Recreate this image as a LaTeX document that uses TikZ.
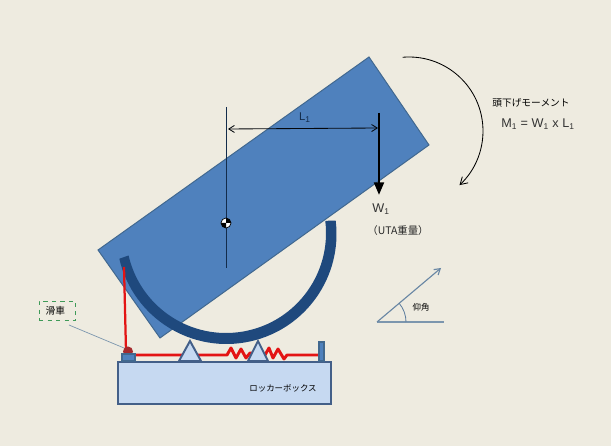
\documentclass[tikz,border=0pt]{standalone}
\usepackage{fontspec}
\setmainfont{Liberation Sans}
\newfontfamily\jp{Noto Sans CJK JP}
\usepackage{xcolor}
\usetikzlibrary{calc,arrows.meta}
\definecolor{paper}{HTML}{EEEBE0}
\definecolor{bodyblue}{HTML}{4F81BD}
\definecolor{edgeblue}{HTML}{41688F}
\definecolor{navy}{HTML}{1F497D}
\definecolor{boxblue}{HTML}{C6D9F1}
\definecolor{boxedge}{HTML}{435F88}
\definecolor{wire}{HTML}{E31414}
\definecolor{thingrey}{HTML}{7C96AE}
\definecolor{pulleyred}{HTML}{A52A2E}
\definecolor{dashgreen}{HTML}{3F9A58}
\tikzset{
  lab/.style={inner sep=0pt,text=black!80,font=\fontsize{9}{11}\selectfont},
  jplab/.style={inner sep=0pt,text=black,font=\fontsize{6.9}{8}\selectfont\jp},
  wirepath/.style={draw=wire,line width=2.1pt,line join=round},
  pivot/.style={fill=boxblue,draw=boxedge,line width=1.4pt,line join=miter},
}
\begin{document}
\begin{tikzpicture}[x=0.025cm,y=0.025cm]
\useasboundingbox (0,0) rectangle (611,446);
\fill [paper] (0,0) rectangle (611,446);

% launcher body
\filldraw [fill=bodyblue, draw=edgeblue, line width=0.7pt] (369,389) -- (429,301) -- (160,108) -- (98,196) -- cycle;

% cradle
\fill [navy] (226.5,212) ++(193:110) arc[start angle=193, end angle=367, radius=110]
  -- ($(226,213)+(7:100)$) arc[start angle=7, end angle=-167, radius=100] -- cycle;

% box and pivots
\filldraw [fill=boxblue, draw=boxedge, line width=1.4pt] (118,84) rectangle (331,42);
\node [jplab, font=\fontsize{6}{8}\selectfont\jp] (boxlabel) at (283,58) {ロッカーボックス};

% wire
\coordinate (wiretop) at (124,179);
\coordinate (wirelow) at (126,95);
\coordinate (wirestart) at (134,91);
\coordinate (wireend) at (319,91);
\draw [wirepath, line width=1.6pt] (wiretop) -- (wirelow);
\draw [wirepath] (wirestart) -- (227,91) -- (231,98) -- (236,88) -- (241,97) -- (246,88) -- (250,93) -- (265,91)
  -- (269,98) -- (273,88) -- (278,97) -- (284,87) -- (287,91) -- (wireend);

\filldraw [pivot] (179,85) -- (190,105) -- (201,85) -- cycle;
\filldraw [pivot] (248,85) -- (258,105) -- (268,85) -- cycle;

% pulley and stopper
\fill [pulleyred] (128,94.5) circle [radius=5];
\filldraw [fill=bodyblue, draw=edgeblue, line width=1pt] (122,85) rectangle (135,92);
\filldraw [fill=bodyblue, draw=edgeblue, line width=1pt] (319,85) rectangle (324,104);

% pulley label
\node [jplab, draw=dashgreen, dashed, line width=0.5pt, minimum width=26pt, minimum height=14pt] (pulleylabel) at (57.5,135) {\hspace*{-3pt}滑車};
\coordinate (leadstart) at (69,121);
\coordinate (leadend) at (124,98);
\draw [thingrey, line width=0.5pt] (leadstart) -- (leadend);

% gravity line and CG
\coordinate (cg) at (226,223);
\coordinate (cgtop) at (226,339);
\coordinate (cglow) at (226,178);
\draw [navy!60!black, line width=0.7pt] (cgtop) -- (cglow);
\filldraw [fill=white, draw=black, line width=0.5pt] (cg) circle [radius=5];
\fill [black] (cg) -- ++(5,0) arc[start angle=0, end angle=90, radius=5] -- cycle;
\fill [black] (cg) -- ++(-5,0) arc[start angle=180, end angle=270, radius=5] -- cycle;

% L1 and W1
\coordinate (armleft) at (228,317);
\coordinate (armright) at (378,318);
\draw [{Straight Barb[length=4pt,width=5pt]}-{Straight Barb[length=4pt,width=5pt]}, black!90!navy, line width=0.6pt] (armleft) -- (armright);
\node [lab, text=navy!60!black, font=\fontsize{8}{10}\selectfont] (armlabel) at (305,328) {L\textsubscript{1}};
\coordinate (wtop) at (379,333);
\coordinate (wend) at (379,251);
\draw [-{Triangle[length=9pt,width=7pt]}, black, line width=1.7pt] (wtop) -- (wend);
\node [lab] (wlabel) at (381,237) {W\textsubscript{1}};
\node [jplab, text=black!85, font=\fontsize{7.4}{8}\selectfont\jp] (wnote) at (398,215) {（UTA重量）};

% moment
\draw [-{Straight Barb[length=5pt,width=6pt]}, black, line width=0.6pt] (409,315) ++(95:74) arc[start angle=95, end angle=-47, radius=74];
\node [jplab] (momenttitle) at (531,343) {頭下げモーメント};
\node [lab] (momentformula) at (538,322) {M\textsubscript{1} = W\textsubscript{1} x L\textsubscript{1}};

% elevation angle
\coordinate (elevbase) at (377,124);
\coordinate (elevflat) at (444,124);
\coordinate (elevtip) at (441,178);
\draw [thingrey, line width=0.8pt] (elevbase) -- (elevflat);
\draw [-{Straight Barb[length=4pt,width=5pt]}, thingrey!80!navy, line width=0.8pt] (elevbase) -- (elevtip);
\draw [thingrey!70!navy, line width=0.6pt] (406,124) arc[start angle=0, end angle=40, radius=29];
\node [jplab, font=\fontsize{6}{8}\selectfont\jp] (elevlabel) at (421,139) {仰角};
\end{tikzpicture}
\end{document}
